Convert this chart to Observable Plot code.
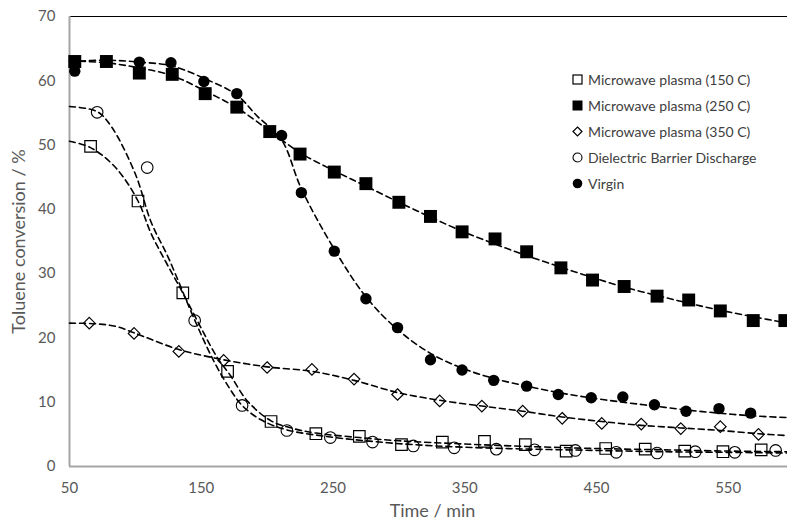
<!DOCTYPE html>
<html>
<head>
<meta charset="utf-8">
<script src="https://cdn.jsdelivr.net/npm/d3@7"></script>
<script src="https://cdn.jsdelivr.net/npm/@observablehq/plot@0.6"></script>
<style>
  body { margin: 0; background: #fff; }
  #wrap { position: relative; width: 787px; height: 525px; }
  #legend { position: absolute; left: 571px; top: 66px; font-family: Lato, "Open Sans", sans-serif; font-size: 14px; color: #404040; }
  #legend .row { display: flex; align-items: center; height: 26px; }
  #legend svg { margin-right: 4px; }
</style>
</head>
<body>
<div id="wrap"><div id="legend"></div></div>
<script>
// ---- data ----
const seriesNames = ["Microwave plasma (150 C)", "Microwave plasma (250 C)", "Microwave plasma (350 C)", "Dielectric Barrier Discharge", "Virgin"];
const xTicks = [50, 150, 250, 350, 450, 550];
const yTicks = [0, 10, 20, 30, 40, 50, 60, 70];

// Microwave plasma (150 C) - open squares
const mw150T = [66, 102, 136, 170, 203, 237, 270, 302, 333, 365, 396, 427, 457, 487, 517, 546, 575];
const mw150Y = [49.8, 41.3, 27.0, 14.8, 7.0, 5.1, 4.7, 3.4, 3.8, 3.9, 3.4, 2.4, 2.8, 2.7, 2.4, 2.3, 2.6];
// Microwave plasma (250 C) - filled squares
const mw250T = [54, 78, 103, 128, 153, 177, 202, 225, 251, 275, 300, 324, 348, 373, 397, 423, 447, 471, 496, 520, 544, 569, 593];
const mw250Y = [63.0, 63.0, 61.2, 61.0, 58.0, 55.9, 52.1, 48.6, 45.8, 44.0, 41.1, 38.9, 36.5, 35.4, 33.4, 30.9, 29.0, 28.0, 26.5, 25.9, 24.2, 22.7, 22.7];
// Microwave plasma (350 C) - open diamonds
const mw350T = [65, 99, 133, 167, 200, 234, 266, 299, 331, 363, 394, 424, 454, 484, 514, 544, 573];
const mw350Y = [22.3, 20.7, 17.9, 16.5, 15.4, 15.1, 13.6, 11.2, 10.2, 9.4, 8.6, 7.5, 6.7, 6.6, 5.9, 6.2, 5.0];
// Dielectric Barrier Discharge - open circles
const dbdT = [71, 109, 145, 181, 215, 248, 280, 311, 342, 374, 403, 434, 465, 496, 525, 555, 586];
const dbdY = [55.1, 46.5, 22.7, 9.5, 5.6, 4.5, 3.8, 3.2, 2.9, 2.7, 2.6, 2.5, 2.2, 2.1, 2.3, 2.2, 2.5];
// Virgin - filled circles
const virT = [54, 78, 103, 127, 152, 177, 211, 226, 251, 275, 299, 324, 348, 372, 397, 421, 446, 470, 494, 518, 543, 567];
const virY = [61.5, 63.1, 62.9, 62.8, 59.9, 58.0, 51.5, 42.6, 33.5, 26.1, 21.6, 16.6, 15.0, 13.4, 12.5, 11.2, 10.7, 10.8, 9.6, 8.6, 9.0, 8.3];

// dashed trend curves
const mw150FitT = [50, 66, 85, 102, 112, 124, 136, 150, 162, 172, 185, 203, 220, 237, 270, 300, 350, 400, 450, 500, 550, 595];
const mw150FitY = [50.6, 49.6, 46.5, 41.3, 36.2, 31.5, 27.0, 21.5, 17.0, 14.2, 10.2, 7.1, 5.9, 5.2, 4.5, 4.0, 3.5, 3.1, 2.8, 2.6, 2.4, 2.3];
const mw250FitT = [50, 78, 103, 128, 153, 177, 202, 225, 251, 275, 300, 324, 348, 373, 397, 423, 447, 471, 496, 520, 544, 569, 595];
const mw250FitY = [63.1, 62.8, 62.0, 60.8, 58.4, 55.8, 52.2, 48.8, 46.0, 43.6, 41.1, 38.8, 36.6, 34.6, 32.8, 31.0, 29.4, 27.9, 26.6, 25.4, 24.3, 23.3, 22.3];
const mw350FitT = [50, 70, 85, 99, 133, 167, 200, 234, 266, 299, 331, 363, 394, 424, 454, 484, 514, 544, 573, 595];
const mw350FitY = [22.3, 22.2, 21.8, 20.8, 18.2, 16.6, 15.5, 14.8, 13.4, 11.5, 10.3, 9.4, 8.6, 7.7, 7.0, 6.4, 6.0, 5.6, 5.1, 4.8];
const dbdFitT = [50, 71, 82, 100, 112, 125, 145, 160, 172, 181, 195, 215, 248, 280, 311, 350, 400, 450, 500, 550, 595];
const dbdFitY = [56.0, 55.2, 52.8, 45.5, 38.0, 32.5, 22.8, 16.2, 12.0, 9.5, 7.3, 5.7, 4.6, 3.9, 3.4, 3.0, 2.7, 2.5, 2.3, 2.2, 2.1];
const virFitT = [50, 78, 103, 128, 153, 177, 192, 211, 226, 251, 275, 299, 324, 348, 372, 397, 421, 445, 470, 494, 518, 543, 567, 595];
const virFitY = [63.0, 63.2, 62.9, 62.3, 60.3, 57.8, 54.6, 50.8, 43.2, 33.8, 26.4, 21.3, 17.6, 15.3, 13.7, 12.5, 11.5, 10.7, 10.0, 9.4, 8.8, 8.3, 7.9, 7.6];

// ---- build tables ----
const zip = (T, Y) => T.map((t, i) => ({t, v: Y[i]}));
const mw150 = zip(mw150T, mw150Y), mw250 = zip(mw250T, mw250Y), mw350 = zip(mw350T, mw350Y), dbd = zip(dbdT, dbdY), vir = zip(virT, virY);
const fits = [zip(mw150FitT, mw150FitY), zip(mw250FitT, mw250FitY), zip(mw350FitT, mw350FitY), zip(dbdFitT, dbdFitY), zip(virFitT, virFitY)];

const font = "Lato, 'Open Sans', sans-serif";
const dash = {x: "t", y: "v", stroke: "black", strokeWidth: 1.6, strokeDasharray: "6,4", curve: "catmull-rom"};

const chart = Plot.plot({
  width: 787,
  height: 525,
  marginLeft: 69,
  marginRight: 0,
  marginTop: 16,
  marginBottom: 59,
  style: {fontFamily: font, background: "white", overflow: "visible"},
  x: {domain: [50, 595]},
  y: {domain: [0, 70]},
  marks: [
    Plot.ruleY([70], {stroke: "black", strokeWidth: 1.2}),
    Plot.ruleY([0], {stroke: "#a6a6a6", strokeWidth: 2}),
    Plot.ruleX([50], {stroke: "#a6a6a6", strokeWidth: 2}),
    Plot.axisX({ticks: xTicks, tickSize: 0, tickPadding: 16, fontSize: 15, color: "#595959", label: null}),
    Plot.axisY({ticks: yTicks, tickSize: 0, tickPadding: 14, fontSize: 15, color: "#595959", label: null}),
    Plot.text(["Time / min"], {frameAnchor: "bottom", textAnchor: "middle", lineAnchor: "middle", dy: 45, dx: 4, fontSize: 18, fill: "#595959"}),
    Plot.text(["Toluene conversion / %"], {frameAnchor: "left", textAnchor: "middle", lineAnchor: "middle", dx: -50, rotate: -90, fontSize: 18, fill: "#595959"}),
    ...fits.map(f => Plot.line(f, dash)),
    Plot.dot(mw150, {x: "t", y: "v", symbol: "square", r: 6.5, stroke: "black", fill: "none", strokeWidth: 1.2}),
    Plot.dot(mw250, {x: "t", y: "v", symbol: "square", r: 7.3, fill: "black", stroke: "none"}),
    Plot.dot(mw350, {x: "t", y: "v", symbol: "diamond2", r: 5.2, stroke: "black", fill: "none", strokeWidth: 1.2}),
    Plot.dot(dbd, {x: "t", y: "v", symbol: "circle", r: 5.8, stroke: "black", fill: "none", strokeWidth: 1.1}),
    Plot.dot(vir, {x: "t", y: "v", symbol: "circle", r: 5.7, fill: "black", stroke: "none"})
  ]
});
document.getElementById("wrap").prepend(chart);

// ---- legend ----
const legendMarks = [
  '<rect x="2" y="2" width="9" height="9" fill="none" stroke="black" stroke-width="1.2"/>',
  '<rect x="1.5" y="1.5" width="10" height="10" fill="black"/>',
  '<path d="M6.5,2 L11,6.5 L6.5,11 L2,6.5 Z" fill="none" stroke="black" stroke-width="1.2"/>',
  '<circle cx="6.5" cy="6.5" r="4.5" fill="none" stroke="black" stroke-width="1.1"/>',
  '<circle cx="6.5" cy="6.5" r="4.8" fill="black"/>'
];
const legend = document.getElementById("legend");
seriesNames.forEach((name, i) => {
  const row = document.createElement("div");
  row.className = "row";
  row.innerHTML = `<svg width="13" height="13">${legendMarks[i]}</svg><span>${name}</span>`;
  legend.appendChild(row);
});
</script>
</body>
</html>
